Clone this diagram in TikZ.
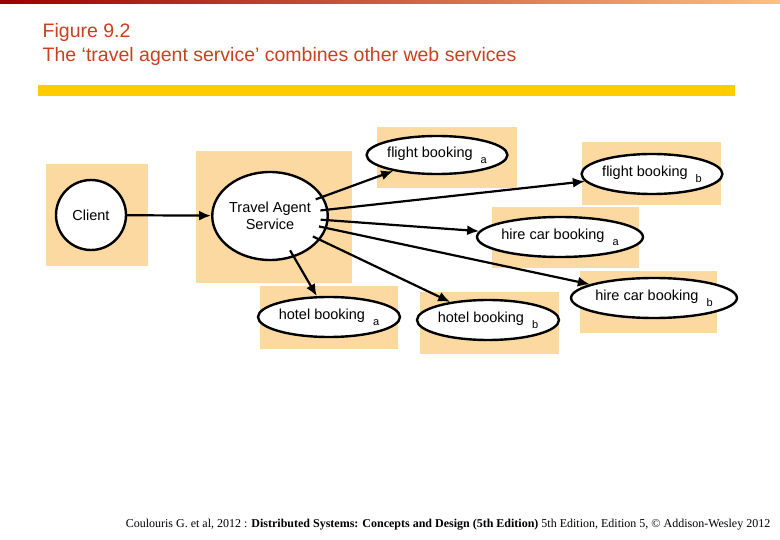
\documentclass[tikz,border=0pt]{standalone}
\usepackage{fontspec}
\setmainfont{Liberation Sans}
\newfontfamily\footfont{Liberation Serif}
\usetikzlibrary{shapes,arrows,arrows.meta,positioning}
\definecolor{boxfill}{HTML}{FCD9A0}
\definecolor{titlered}{HTML}{C8401E}
\definecolor{baryellow}{HTML}{FFCC00}
\begin{document}
\begin{tikzpicture}[x=1pt, y=-1pt, thick]
        \tikzstyle{panel} = [fill=boxfill, draw=none]
        \tikzstyle{service} = [ellipse, draw, line width=2.4pt, fill=white, inner sep=0pt, font=\fontsize{14.5}{17}\selectfont]
        \tikzstyle{line} = [draw, line width=2.2pt, -{Latex[length=12pt,width=10pt]}, shorten <=-8pt]
        \newcommand{\idx}[1]{\hspace{8pt}\raisebox{-6pt}{\fontsize{11}{13}\selectfont #1}}

        \useasboundingbox (0,0) rectangle (780,540);
        \shade[left color=red!60!black, right color=orange!50] (0,0) rectangle (780,4);
        \node[anchor=west, text=titlered, font=\fontsize{19.5}{22}\selectfont] (fig) at (39,32) {Figure 9.2};
        \node[anchor=west, text=titlered, font=\fontsize{19.5}{22}\selectfont] (caption) at (39,56) {The ‘travel agent service’ combines other web services};
        \fill[baryellow] (38,85) rectangle (735,96);

        % shaded panels
        \fill[panel] (46,164) rectangle (148,266);
        \fill[panel] (196,151) rectangle (352,283);
        \fill[panel] (377,127) rectangle (517,188);
        \fill[panel] (582,142) rectangle (721,205);
        \fill[panel] (492,207) rectangle (639,268);
        \fill[panel] (580,271) rectangle (717,333);
        \fill[panel] (260,286) rectangle (398,349);
        \fill[panel] (420,292) rectangle (559,354);

        \node [service, circle, minimum size=70pt] (client) at (91,215) {Client};
        \node [service, minimum width=108pt, minimum height=88pt, align=center] (agent) at (270,216) {Travel Agent\\Service};
        \node [service, minimum width=120pt, minimum height=38pt] (flighta) at (437,155) {flight booking\idx{a}};
        \node [service, minimum width=124pt, minimum height=40pt] (flightb) at (652,174) {flight booking\idx{b}};
        \node [service, minimum width=132pt, minimum height=40pt] (hirea) at (560,237) {hire car booking\idx{a}};
        \node [service, minimum width=132pt, minimum height=40pt] (hireb) at (654,298) {hire car booking\idx{b}};
        \node [service, minimum width=120pt, minimum height=40pt] (hotela) at (329,317) {hotel booking\idx{a}};
        \node [service, minimum width=120pt, minimum height=40pt] (hotelb) at (488,320) {hotel booking\idx{b}};

        \path [line, shorten <=0pt] (client) -- (agent);
        \path [line] (agent) -- (flighta);
        \path [line] (agent) -- (flightb);
        \path [line] (agent) -- (hirea);
        \path [line] (agent) -- (hireb);
        \path [line] (agent) -- (hotela);
        \path [line] (agent) -- (hotelb);

        \node[anchor=east, font=\footfont\fontsize{12}{14}\selectfont] (credit) at (774,525) {Coulouris G. et al, 2012 : \textbf{Distributed Systems: Concepts and Design (5th Edition)} 5th Edition, Edition 5, © Addison-Wesley 2012};
\end{tikzpicture}
\end{document}
